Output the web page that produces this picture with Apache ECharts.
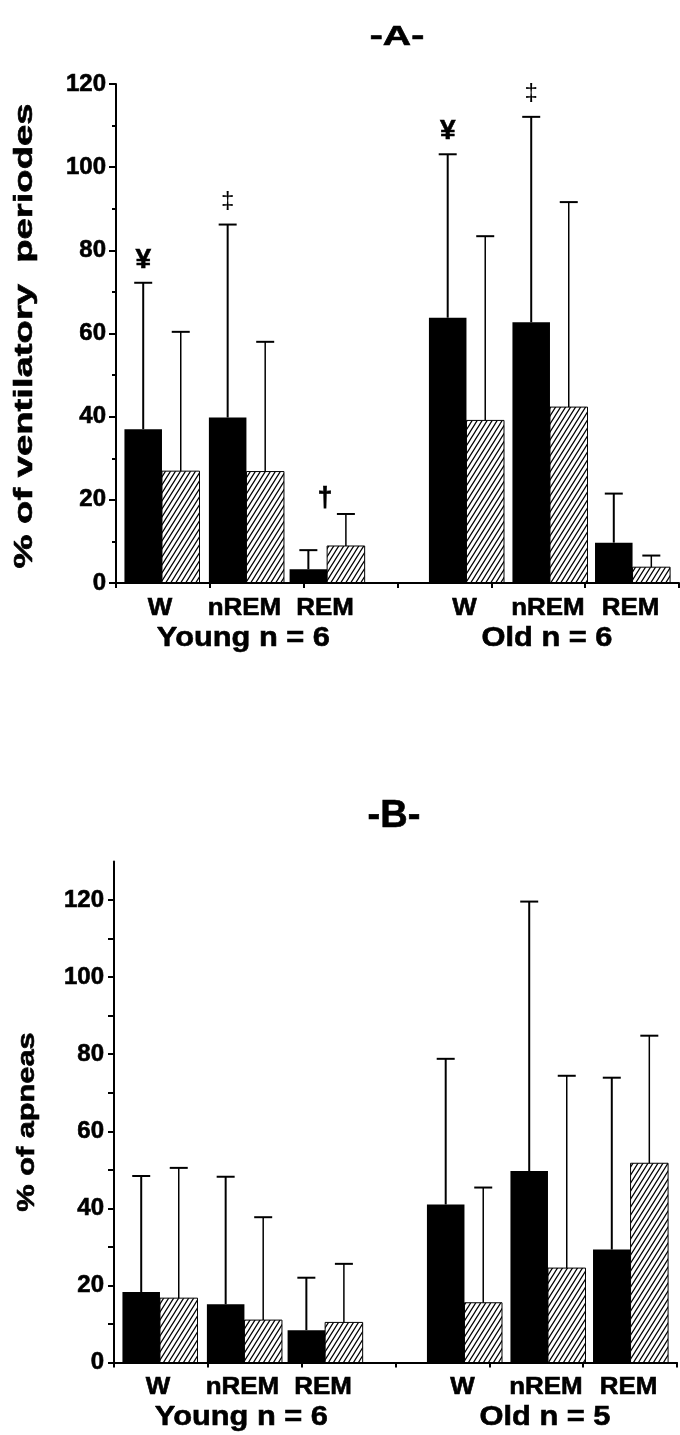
<!DOCTYPE html>
<html><head><meta charset="utf-8">
<script src="https://cdn.jsdelivr.net/npm/echarts@6/dist/echarts.min.js"></script>
<style>html,body{margin:0;padding:0;background:#fff}#c{width:680px;height:1435px}</style>
</head><body><div id="c"></div>
<script>
// ---------- data ----------
const stages = ['W', 'nREM', 'REM', 'W', 'nREM', 'REM'];
const groupsA = ['Young n = 6', 'Old n = 6'];
const groupsB = ['Young n = 6', 'Old n = 5'];

// Panel A: % of ventilatory periodes (mean and SD)
const blackMeanA = [37.0, 39.8, 3.3, 63.8, 62.7, 9.7];
const blackSdA   = [35.2, 46.4, 4.6, 39.3, 49.4, 11.8];
const hatchMeanA = [26.9, 26.8, 8.9, 39.1, 42.3, 3.8];
const hatchSdA   = [33.5, 31.2, 7.7, 44.3, 49.3, 2.8];
const marksA     = ['¥', '‡', '†', '¥', '‡', ''];
const markOnA    = ['black', 'black', 'pair', 'black', 'black', ''];

// Panel B: % of apneas (mean and SD)
const blackMeanB = [18.3, 15.1, 8.4, 41.0, 49.7, 29.3];
const blackSdB   = [30.1, 33.1, 13.6, 37.8, 69.9, 44.6];
const hatchMeanB = [16.7, 11.0, 10.4, 15.5, 24.5, 51.7];
const hatchSdB   = [33.8, 26.7, 15.2, 29.9, 49.9, 33.1];
const marksB     = ['', '', '', '', '', ''];
const markOnB    = ['', '', '', '', '', ''];

const yMaxA = 120, yMaxB = 130, yLabelStep = 20;

// ---------- layout ----------
const FONT = "'Liberation Sans', Arial, Helvetica, sans-serif";
const slotPos = [0.49, 1.39, 2.25, 3.735, 4.625, 5.505]; // pair centres in x-axis units
const BAR_W = 0.40;
const THICK = { textBorderColor: '#000', textBorderWidth: 0.6 };

function hatchPattern() {
  const c = document.createElement('canvas');
  c.width = 5; c.height = 8;
  const g = c.getContext('2d');
  g.strokeStyle = '#000'; g.lineWidth = 1.2;
  g.beginPath();
  for (let k = -1; k <= 1; k++) {
    g.moveTo(5 * k - 0.625, 9); g.lineTo(5 * k + 5.625, -1);
  }
  g.stroke();
  return { image: c, repeat: 'repeat' };
}
const PAT = hatchPattern();

const markFont = {
  '¥': { size: 28, weight: 'bold', dy: 22.5 },
  '‡': { size: 24, weight: 'normal', dy: 23 },
  '†': { size: 27, weight: 'bold', dy: 15 }
};

function txt(text, font, extra) {
  return Object.assign({ text: text, font: font, fill: '#000', align: 'center', verticalAlign: 'middle',
    stroke: '#000', lineWidth: 0.6 }, extra || {});
}

function makeRender(groups, marks, markOn) {
  return function (params, api) {
    const i = params.dataIndex;
    const p = api.value(0);
    const y0 = api.coord([p, 0])[1];
    const xl = api.coord([p - BAR_W, 0])[0];
    const xm = api.coord([p, 0])[0];
    const xr = api.coord([p + BAR_W, 0])[0];
    const bm = api.value(1), bs = api.value(2), hm = api.value(3), hs = api.value(4);
    const yb = api.coord([p, bm])[1], ybE = api.coord([p, bm + bs])[1];
    const yh = api.coord([p, hm])[1], yhE = api.coord([p, hm + hs])[1];
    const cb = (xl + xm) / 2, ch = (xm + xr) / 2;
    const cap = 9;
    const kids = [
      { type: 'rect', shape: { x: xl, y: yb, width: xm - xl, height: y0 - yb }, style: { fill: '#000' } },
      { type: 'rect', shape: { x: xm, y: yh, width: xr - xm, height: y0 - yh }, style: { fill: PAT, stroke: '#000', lineWidth: 1 } },
      { type: 'line', shape: { x1: cb, y1: yb, x2: cb, y2: ybE }, style: { stroke: '#000', lineWidth: 2 } },
      { type: 'line', shape: { x1: cb - cap, y1: ybE, x2: cb + cap, y2: ybE }, style: { stroke: '#000', lineWidth: 2 } },
      { type: 'line', shape: { x1: ch, y1: yh, x2: ch, y2: yhE }, style: { stroke: '#000', lineWidth: 1.5 } },
      { type: 'line', shape: { x1: ch - cap, y1: yhE, x2: ch + cap, y2: yhE }, style: { stroke: '#000', lineWidth: 2 } },
      { type: 'text', x: xm - 2, y: y0 + 25, scaleX: 1.08, style: txt(stages[i], 'bold 24px ' + FONT) }
    ];
    if (i === 1 || i === 4) {
      kids.push({ type: 'text', x: xm - 3, y: y0 + 55, scaleX: 1.1,
        style: txt(groups[i === 1 ? 0 : 1], 'bold 28px ' + FONT) });
    }
    const m = marks[i];
    if (m) {
      const f = markFont[m];
      let mx, my;
      if (markOn[i] === 'pair') { mx = xm - 2; my = Math.min(ybE, yhE) - f.dy; }
      else { mx = cb; my = ybE - f.dy; }
      kids.push({ type: 'text', x: mx, y: my,
        style: txt(m, f.weight + ' ' + f.size + 'px ' + FONT, f.weight === 'bold' ? {} : { lineWidth: 0 }) });
    }
    return { type: 'group', children: kids };
  };
}

function rows(bm, bs, hm, hs) {
  return slotPos.map((p, i) => [p, bm[i], bs[i], hm[i], hs[i]]);
}

const axisLine = { show: true, lineStyle: { color: '#000', width: 2 } };
function xAx(gi) {
  return {
    type: 'value', gridIndex: gi, min: 0, max: 6, interval: 1,
    axisLine: axisLine,
    axisTick: { show: true, length: 5, lineStyle: { color: '#000', width: 2 } },
    axisLabel: { show: false }, splitLine: { show: false }
  };
}
const labelStyle = Object.assign({ color: '#000', fontFamily: FONT, fontWeight: 'bold', fontSize: 24, margin: 10 }, THICK);

const option = {
  animation: false,
  backgroundColor: '#fff',
  grid: [
    { left: 116, top: 84, width: 563, height: 499 },
    { left: 114, top: 861.5, width: 563, height: 501 }
  ],
  xAxis: [xAx(0), xAx(1)],
  yAxis: [
    {
      type: 'value', gridIndex: 0, min: 0, max: yMaxA, interval: yLabelStep,
      axisLine: axisLine,
      axisTick: { show: true, length: 7, lineStyle: { color: '#000', width: 2 } },
      minorTick: { show: true, splitNumber: 2, length: 4, lineStyle: { color: '#000', width: 2 } },
      axisLabel: labelStyle, splitLine: { show: false }
    },
    {
      type: 'value', gridIndex: 1, min: 0, max: yMaxB, interval: yLabelStep / 2,
      axisLine: axisLine,
      axisTick: { show: true, length: 6, lineStyle: { color: '#000', width: 2 } },
      axisLabel: Object.assign({}, labelStyle, {
        showMaxLabel: false,
        formatter: v => (v % yLabelStep === 0 ? String(v) : '')
      }),
      splitLine: { show: false }
    }
  ],
  series: [
    { type: 'custom', xAxisIndex: 0, yAxisIndex: 0, clip: false,
      data: rows(blackMeanA, blackSdA, hatchMeanA, hatchSdA),
      renderItem: makeRender(groupsA, marksA, markOnA) },
    { type: 'custom', xAxisIndex: 1, yAxisIndex: 1, clip: false,
      data: rows(blackMeanB, blackSdB, hatchMeanB, hatchSdB),
      renderItem: makeRender(groupsB, marksB, markOnB) }
  ],
  graphic: [
    { type: 'text', x: 397, y: 38, scaleX: 1.45, style: txt('-A-', 'bold 27px ' + FONT) },
    { type: 'text', x: 394, y: 817, style: txt('-B-', 'bold 38px ' + FONT) },
    { type: 'text', x: 25, y: 336, rotation: Math.PI / 2, scaleX: 1.47,
      style: txt('% of ventilatory  periodes', 'bold 26px ' + FONT) },
    { type: 'text', x: 27, y: 1122, rotation: Math.PI / 2, scaleX: 1.28,
      style: txt('% of apneas', 'bold 24px ' + FONT) }
  ]
};

const chart = echarts.init(document.getElementById('c'), null, { renderer: 'canvas' });
chart.setOption(option);
</script>
</body></html>
